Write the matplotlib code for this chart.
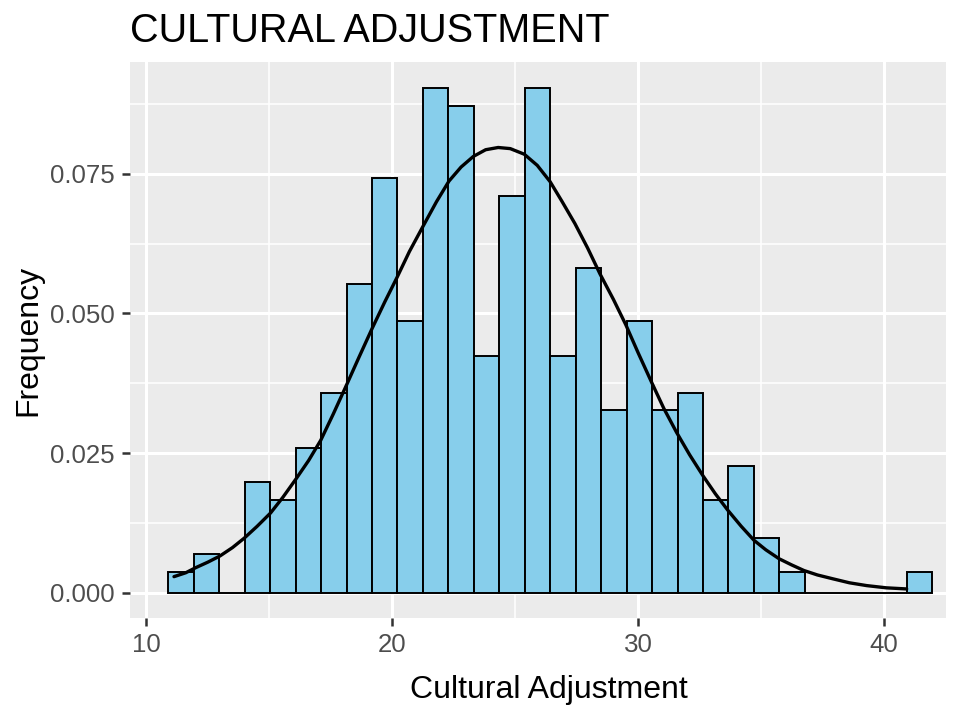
import matplotlib
matplotlib.use("Agg")
import matplotlib.pyplot as plt
import numpy as np

# histogram: 30 bins, density values
bin_start = 10.887
bin_width = 1.036
density = [0.0037, 0.0070, 0.0, 0.0199, 0.0167, 0.0260, 0.0357, 0.0553, 0.0743, 0.0487,
           0.0904, 0.0871, 0.0423, 0.0710, 0.0904, 0.0423, 0.0581, 0.0328, 0.0487, 0.0328,
           0.0357, 0.0167, 0.0227, 0.0099, 0.0037, 0.0, 0.0, 0.0, 0.0, 0.0037]

# fitted curve, points
curve_x = [11.12, 11.6, 12.0, 12.5, 12.99, 13.5, 13.98, 14.5, 15.05, 15.55, 16.07, 16.6,
           17.09, 17.6, 18.14, 18.65, 19.19, 19.7, 20.2, 20.7, 21.24, 21.8, 22.31, 22.8,
           23.3, 23.8, 24.31, 24.8, 25.37, 25.9, 26.42, 26.9, 27.43, 27.95, 28.45, 29.0,
           29.5, 30.0, 30.55, 31.05, 31.57, 32.1, 32.65, 33.15, 33.65, 34.2, 34.72, 35.2,
           35.74, 36.25, 36.75, 37.3, 37.94, 38.6, 39.3, 40.1, 40.93]
curve_y = [0.0029, 0.0036, 0.0045, 0.0055, 0.0066, 0.0081, 0.0098, 0.0119, 0.0143, 0.0171,
           0.0203, 0.0237, 0.0273, 0.0320, 0.0372, 0.0422, 0.0474, 0.0521, 0.0565, 0.0611,
           0.0655, 0.0700, 0.0737, 0.0762, 0.0781, 0.0793, 0.0797, 0.0795, 0.0785, 0.0765,
           0.0736, 0.0701, 0.0661, 0.0617, 0.0571, 0.0525, 0.0480, 0.0430, 0.0377, 0.0330,
           0.0287, 0.0247, 0.0209, 0.0177, 0.0148, 0.0119, 0.0094, 0.0077, 0.0061, 0.0050,
           0.0040, 0.0032, 0.0025, 0.0018, 0.0013, 0.0009, 0.0007]

x_ticks = [10, 20, 30, 40]
y_ticks = [0.0, 0.025, 0.05, 0.075]
y_labels = ["0.000", "0.025", "0.050", "0.075"]

plt.rcParams['font.family'] = ['Liberation Sans', 'DejaVu Sans']

W, H = 957, 713
fig = plt.figure(figsize=(W / 100, H / 100), dpi=100)
left, right, top, bottom = 130, 946, 62, 618
ax = fig.add_axes([left / W, 1 - bottom / H, (right - left) / W, (bottom - top) / H])
ax.set_facecolor("#EBEBEB")

lefts = bin_start + bin_width * np.arange(len(density))
ax.bar(lefts, density, width=bin_width, align="edge", color="#87CEEB",
       edgecolor="black", linewidth=1.4, zorder=3)
ax.plot(curve_x, curve_y, color="black", linewidth=2.4, zorder=4,
        solid_joinstyle="round", solid_capstyle="round")

ax.set_xlim(9.33, 42.53)
ax.set_ylim(-0.0045, 0.0950)
ax.set_xticks(x_ticks)
ax.set_xticks([15, 25, 35], minor=True)
ax.set_yticks(y_ticks)
ax.set_yticklabels(y_labels)
ax.set_yticks([0.0125, 0.0375, 0.0625, 0.0875], minor=True)
ax.grid(which="major", color="white", linewidth=2.2, zorder=0)
ax.grid(which="minor", color="white", linewidth=1.1, zorder=0)
ax.set_axisbelow(True)
for s in ax.spines.values():
    s.set_visible(False)
ax.tick_params(which="major", length=6, width=1.8, color="#333333",
               labelsize=18.6, labelcolor="#4D4D4D", pad=5)
ax.tick_params(which="minor", length=0)

fig.text(549 / W, 1 - 690 / H, "Cultural Adjustment", fontsize=23, ha="center", va="center")
fig.text(28 / W, 1 - 340 / H, "Frequency", fontsize=23, ha="center", va="center", rotation=90)
fig.text(left / W, 1 - 31 / H, "CULTURAL ADJUSTMENT", fontsize=28.5, ha="left", va="center")

fig.savefig("out.png", dpi=100)
